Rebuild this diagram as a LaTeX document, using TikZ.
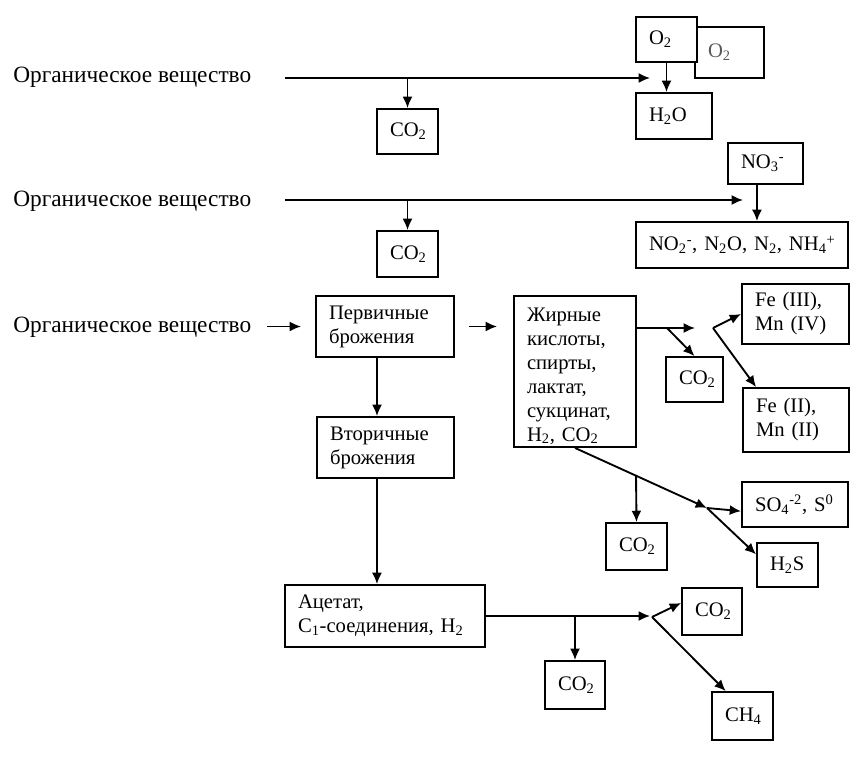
\documentclass[tikz,border=0pt]{standalone}
\usepackage{fontspec}
\setmainfont{Liberation Serif}
\usetikzlibrary{arrows.meta}

\begin{document}
\begin{tikzpicture}[x=0.75pt, y=-0.75pt,
  box/.style = {draw, line width=1.4pt, fill=white, align=left, inner xsep=9.75pt, inner ysep=0pt, font=\fontsize{15.5}{18}\selectfont},
  bw/.style = {minimum width=#1*0.75pt, text width=(#1-26)*0.75pt},
  bh/.style = {minimum height=#1*0.75pt},
  lbl/.style = {anchor=west, inner sep=0pt, font=\fontsize{17.5}{20}\selectfont},
  arr/.style = {line width=1.4pt, -{Latex[length=8.5pt, width=7.5pt]}}]
\useasboundingbox (0,0) rectangle (860,759);

%substrate
\node[lbl] (org1) at (13,77) {Органическое вещество};
\node[lbl] (org2) at (13,201) {Органическое вещество};
\node[lbl] (org3) at (13,327) {Органическое вещество};

%aerobic
\node[box, bw=69, bh=51, text=black!65] (o2b) at (729.5,52.5) {O\textsubscript{2}};
\node[box, bw=61, bh=45] (o2a) at (666.5,39.5) {O\textsubscript{2}};
\node[box, bw=76, bh=46] (h2o) at (674,116) {H\textsubscript{2}O};
\node[box, bw=61, bh=45] (co2a) at (407.5,131.5) {CO\textsubscript{2}};

%nitrate
\node[box, bw=75, bh=41] (no3) at (765.5,163.5) {NO\textsubscript{3}\textsuperscript{-}};
\node[box, bw=212, bh=46] (no2) at (742,245) {\mbox{NO\textsubscript{2}\textsuperscript{-}, N\textsubscript{2}O, N\textsubscript{2}, NH\textsubscript{4}\textsuperscript{+}}};
\node[box, bw=61, bh=46] (co2b) at (407.5,254) {CO\textsubscript{2}};

%fermentation
\node[box, bw=138, bh=61] (perv) at (385,326.5) {Первичные\\брожения};
\node[box, bw=122, text height=18.75pt, text depth=94.5pt] (zhir) at (575,371.5) {Жирные\\кислоты,\\спирты,\\лактат,\\сукцинат,\\H\textsubscript{2}, CO\textsubscript{2}};
\node[box, bw=137, bh=61] (vtor) at (385.5,447.5) {Вторичные\\брожения};
\node[box, bw=200, bh=62] (acet) at (385,616) {Ацетат,\\C\textsubscript{1}-соединения, H\textsubscript{2}};

%metals, sulfur
\node[box, bw=57, bh=45] (co2c) at (694.5,379.5) {CO\textsubscript{2}};
\node[box, bw=107, bh=60] (fe3) at (795.5,314) {Fe (III),\\Mn (IV)};
\node[box, bw=106, bh=64] (fe2) at (796,420) {Fe (II),\\Mn (II)};
\node[box, bw=106, bh=45] (so4) at (795,504.5) {\mbox{SO\textsubscript{4}\textsuperscript{-2}, S\textsuperscript{0}}};
\node[box, bw=61, bh=47] (co2d) at (636.5,546.5) {CO\textsubscript{2}};
\node[box, bw=61, bh=44] (h2s) at (787.5,565) {H\textsubscript{2}S};

%methane
\node[box, bw=60, bh=48] (co2e) at (575,685) {CO\textsubscript{2}};
\node[box, bw=60, bh=47] (co2f) at (712,611.5) {CO\textsubscript{2}};
\node[box, bw=61, bh=48] (ch4) at (742.5,716) {CH\textsubscript{4}};

%row 1
\coordinate (s1) at (285,78);
\coordinate (t1) at (650,78);
\draw[arr] (s1) -- (t1);
\draw[arr] (co2a.north |- s1) -- (co2a.north);
\draw[arr] (o2a.south) -- (o2a.south |- h2o.north);

%row 2
\coordinate (s2) at (285,200);
\coordinate (t2) at (743,200);
\draw[arr] (s2) -- (t2);
\draw[arr] (co2b.north |- s2) -- (co2b.north);
\path ([xshift=-6.4pt]no3.south) coordinate (n3);
\draw[arr] (n3) -- (n3 |- no2.north);

%row 3
\coordinate (s3) at (267,326.5);
\draw[arr, shorten >=10.5pt] (s3) -- (perv.west);
\draw[arr, shorten <=10.5pt, shorten >=12pt] (perv.east) -- (zhir.west |- perv.east);
\path ([xshift=-6pt]perv.south) coordinate (p1);
\draw[arr] (p1) -- (p1 |- vtor.north);
\path ([xshift=-6.4pt]vtor.south) coordinate (v1);
\draw[arr] (v1) -- (v1 |- acet.north);

\coordinate (t3) at (695,328);
\coordinate (b3) at (667,328);
\coordinate (f3) at (713,328);
\draw[arr] (zhir.east |- t3) -- (t3);
\draw[arr] (b3) -- (co2c.north);
\draw[arr] (f3) -- (fe3.west);
\draw[arr] (f3) -- ([xshift=10.5pt]fe2.north west);

\coordinate (f4) at (707,508);
\coordinate (b4) at (636,475);
\draw[arr] (zhir.south) -- (f4);
\draw[arr] (b4) -- (co2d.north);
\draw[arr] (f4) -- ([yshift=-5pt]so4.west);
\draw[arr] (f4) -- ([yshift=8pt]h2s.west);

%bottom
\coordinate (t5) at (650,616);
\coordinate (b5) at (575,616);
\coordinate (f5) at (652,617);
\draw[arr] (acet.east) -- (t5);
\draw[arr] (b5) -- (co2e.north);
\draw[arr] (f5) -- ([yshift=6.4pt]co2f.west);
\draw[arr] (f5) -- ([xshift=11pt]ch4.north west);
\end{tikzpicture}
\end{document}
